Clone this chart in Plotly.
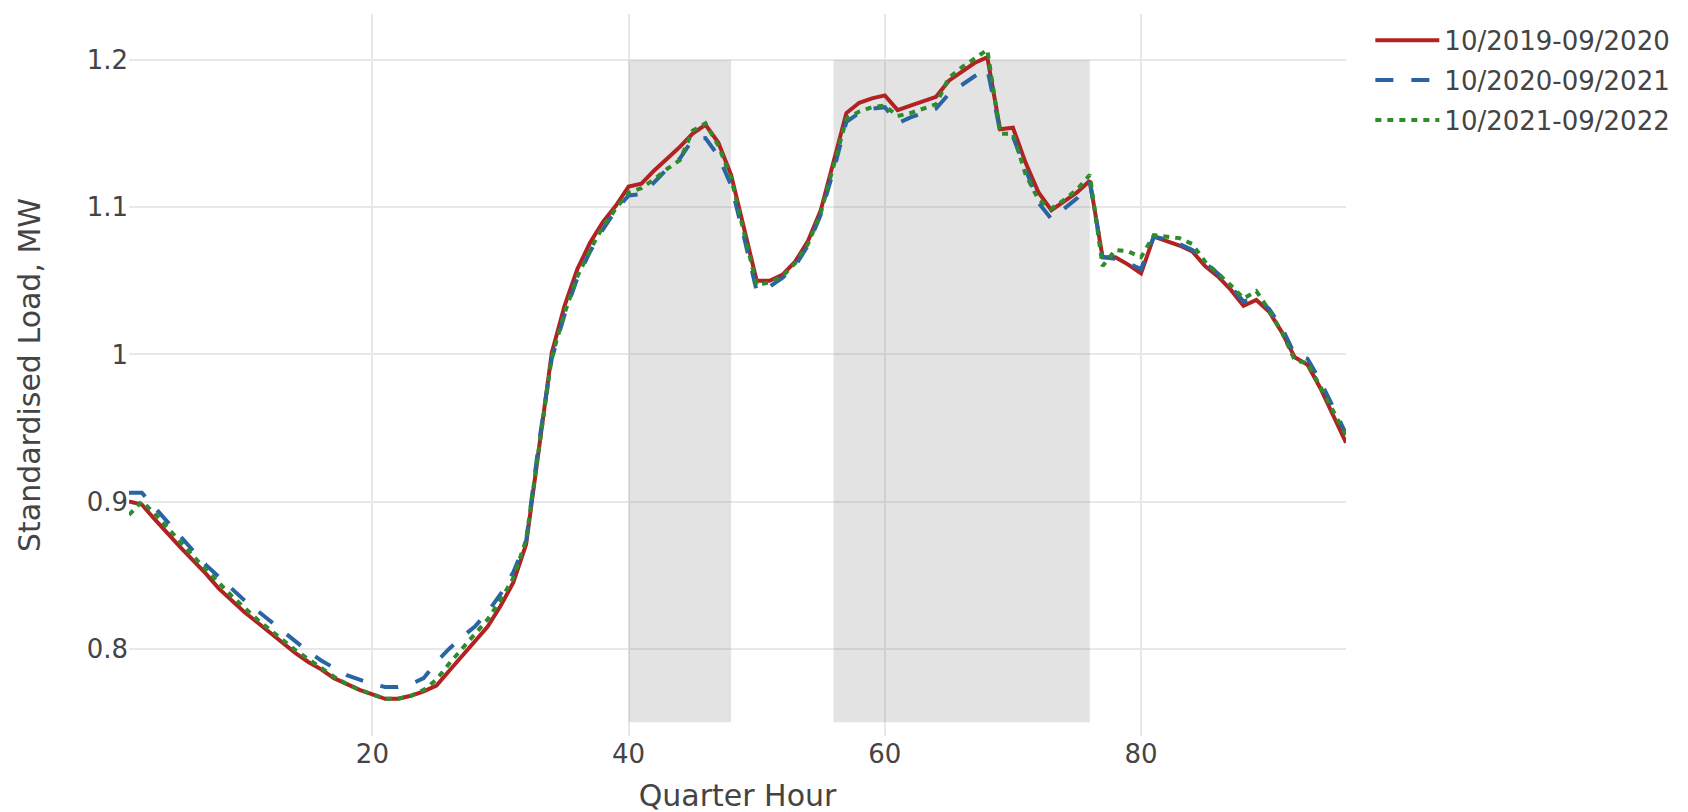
import plotly.graph_objects as go

quarter_hours = list(range(1, 97))

load_2019_2020 = [
    0.900, 0.898, 0.888, 0.878, 0.869, 0.860, 0.851, 0.841, 0.833, 0.825,
    0.818, 0.811, 0.804, 0.797, 0.791, 0.786, 0.780, 0.776, 0.772, 0.769,
    0.766, 0.766, 0.768, 0.771, 0.775, 0.785, 0.795, 0.806, 0.815, 0.829,
    0.845, 0.871, 0.938, 1.001, 1.033, 1.058, 1.076, 1.090, 1.101, 1.114,
    1.116, 1.125, 1.133, 1.141, 1.150, 1.156, 1.144, 1.122, 1.086, 1.050,
    1.050, 1.054, 1.063, 1.077, 1.098, 1.130, 1.164, 1.171, 1.174, 1.176,
    1.166, 1.169, 1.172, 1.175, 1.186, 1.192, 1.198, 1.202, 1.153, 1.154,
    1.130, 1.110, 1.098, 1.104, 1.110, 1.118, 1.066, 1.066, 1.061, 1.055,
    1.080, 1.077, 1.074, 1.070, 1.060, 1.053, 1.044, 1.033, 1.037, 1.029,
    1.015, 0.998, 0.993, 0.977, 0.959, 0.940,
]

load_2020_2021 = [
    0.906, 0.906, 0.896, 0.886, 0.876, 0.866, 0.857, 0.849, 0.841, 0.833,
    0.826, 0.819, 0.812, 0.805, 0.798, 0.792, 0.787, 0.782, 0.779, 0.776,
    0.774, 0.774, 0.776, 0.780, 0.791, 0.800, 0.808, 0.815, 0.825, 0.837,
    0.852, 0.873, 0.940, 0.997, 1.027, 1.052, 1.070, 1.085, 1.098, 1.108,
    1.109, 1.117, 1.126, 1.133, 1.146, 1.147, 1.135, 1.115, 1.080, 1.043,
    1.046, 1.052, 1.060, 1.074, 1.095, 1.125, 1.158, 1.164, 1.167, 1.168,
    1.157, 1.161, 1.164, 1.167, 1.177, 1.183, 1.189, 1.194, 1.152, 1.148,
    1.125, 1.103, 1.092, 1.099, 1.106, 1.117, 1.066, 1.065, 1.062, 1.058,
    1.080, 1.078, 1.075, 1.071, 1.062, 1.055, 1.046, 1.036, 1.038, 1.031,
    1.018, 1.000, 0.997, 0.982, 0.964, 0.946,
]

load_2021_2022 = [
    0.891, 0.900, 0.892, 0.882, 0.872, 0.863, 0.854, 0.845, 0.836, 0.828,
    0.820, 0.813, 0.806, 0.799, 0.793, 0.787, 0.781, 0.776, 0.772, 0.769,
    0.766, 0.766, 0.768, 0.772, 0.779, 0.790, 0.800, 0.811, 0.820, 0.833,
    0.848, 0.874, 0.935, 0.998, 1.028, 1.053, 1.071, 1.087, 1.099, 1.110,
    1.113, 1.119, 1.126, 1.132, 1.152, 1.157, 1.142, 1.120, 1.083, 1.047,
    1.049, 1.053, 1.062, 1.075, 1.096, 1.127, 1.160, 1.165, 1.168, 1.169,
    1.162, 1.164, 1.167, 1.170, 1.188, 1.195, 1.201, 1.207, 1.150, 1.150,
    1.122, 1.105, 1.099, 1.105, 1.112, 1.122, 1.060, 1.071, 1.070, 1.066,
    1.081, 1.080, 1.079, 1.075, 1.063, 1.055, 1.047, 1.038, 1.043, 1.030,
    1.015, 0.996, 0.994, 0.978, 0.961, 0.945,
]

series_names = ["10/2019-09/2020", "10/2020-09/2021", "10/2021-09/2022"]

# shaded peak windows (quarter hours) and their vertical extent
window_starts = [40, 56]
window_ends = [48, 76]
window_low = 0.75
window_high = 1.2

y_tick_vals = [0.8, 0.9, 1.0, 1.1, 1.2]
y_tick_text = ["0.8", "0.9", "1", "1.1", "1.2"]
x_tick_vals = [20, 40, 60, 80]

FONT = "Verdana, DejaVu Sans, sans-serif"
TEXT = "#444444"

fig = go.Figure()

styles = [
    dict(color="#b22222", dash="solid"),
    dict(color="#2a65a3", dash="18px,18px"),
    dict(color="#2e8b2e", dash="6px,6px"),
]
for name, ys, st in zip(series_names, [load_2019_2020, load_2020_2021, load_2021_2022], styles):
    fig.add_trace(go.Scatter(
        x=quarter_hours, y=ys, mode="lines", name=name, legendgroup=name,
        line=dict(color=st["color"], width=4, dash=st["dash"]),
    ))

for x0, x1 in zip(window_starts, window_ends):
    fig.add_shape(type="rect", xref="x", yref="y", x0=x0, x1=x1,
                  y0=window_low, y1=window_high,
                  fillcolor="rgba(128,128,128,0.22)", line=dict(width=0),
                  layer="between")

fig.update_layout(
    width=1688, height=812,
    template="none",
    paper_bgcolor="white", plot_bgcolor="white",
    margin=dict(l=121, r=350, t=6, b=84),
    font=dict(family=FONT, size=26, color=TEXT),
    showlegend=True,
    legend=dict(x=1.02, y=0.996, xanchor="left", yanchor="top",
                font=dict(family=FONT, size=26, color=TEXT),
                itemwidth=64, tracegroupgap=3, bgcolor="rgba(0,0,0,0)"),
)
fig.update_xaxes(
    range=[1, 96], tickvals=x_tick_vals, showgrid=True, gridcolor="#e8e8e8",
    gridwidth=2, zeroline=False, showline=False, ticks="",
    tickfont=dict(size=26, color=TEXT, family=FONT),
    title=dict(text="Quarter Hour", font=dict(size=30, color=TEXT, family=FONT), standoff=16),
)
fig.update_yaxes(
    range=[0.7407, 1.2313], tickvals=y_tick_vals, ticktext=y_tick_text,
    showgrid=True, gridcolor="#e8e8e8", gridwidth=2, zeroline=False,
    showline=False, ticks="",
    tickfont=dict(size=26, color=TEXT, family=FONT),
    title=dict(text="Standardised Load, MW", font=dict(size=30, color=TEXT, family=FONT), standoff=37),
)

fig.write_html("out.html")
